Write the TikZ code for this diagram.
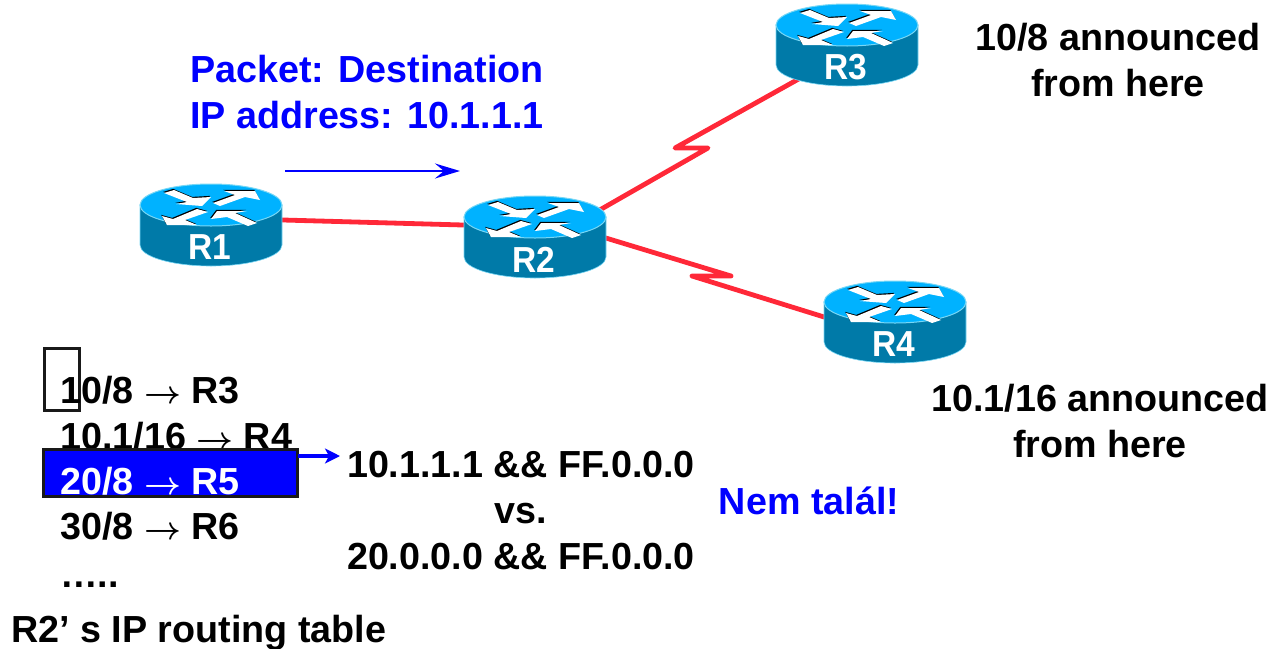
\documentclass[tikz,border=0pt]{standalone}
\usepackage{fontspec}
\setmainfont{Liberation Sans}
\usetikzlibrary{arrows.meta}
\definecolor{rtop}{RGB}{0,178,255}
\definecolor{rside}{RGB}{0,122,168}
\definecolor{rrim}{RGB}{120,215,245}
\definecolor{wan}{RGB}{255,40,56}
\definecolor{pblue}{RGB}{0,0,255}
\tikzset{
  txt/.style={font=\fontsize{37.7}{36}\selectfont\bfseries, inner sep=0pt, align=center},
  bluetxt/.style={txt, text=pblue},
  tbl/.style={txt, anchor=base west},
  link/.style={draw=wan, line width=4.8pt, line cap=round, line join=round},
  rlabel/.style={font=\fontsize{33.5}{33.5}\selectfont\bfseries, text=white, inner sep=0pt},
  bluearrow/.style={draw=pblue, -{Stealth[length=25pt,width=15pt,inset=9pt]}},
  bluearrowb/.style={draw=pblue, -{Stealth[length=15pt,width=15pt,inset=4pt]}}
}
\newcommand{\tarr}{\scalebox{1.29}{\boldmath$\rightarrow$}}
\newcommand{\routerbody}[4]{%
  \begin{scope}[shift={(#2,#3)}]
    \path[fill=rside, draw=rrim, line width=.6pt] (-71,0) -- (-71,40) arc[start angle=180,end angle=0,x radius=71,y radius=21] -- (71,0) -- cycle;
    \path[fill=rtop, draw=rrim, line width=1pt] (0,0) ellipse[x radius=71,y radius=21];
    \foreach \p in {0,1}{\ifnum\p=0\tikzset{rr/.style={shift={(-.8,-1.1)},fill=black}}\else\tikzset{rr/.style={fill=white}}\fi
      \path[rr] (-47,-12) -- (-37,-15) -- (-18,-7) -- (0,-8) -- (-9,1) -- (-35,-1) -- (-24,-3) -- cycle;
      \path[rr] (2,-2) -- (24,-10) -- (13,-14) -- (44,-14) -- (49,-5) -- (34,-8) -- (9,1) -- cycle;
      \path[rr] (-49,11) -- (-38,14) -- (-14,4) -- (-3,7) -- (-26,15) -- (-14,20) -- (-44,20) -- cycle;
      \path[rr] (0,14) -- (6,6) -- (36,6) -- (24,8) -- (46,18) -- (37,21) -- (16,12) -- cycle;
    }
    \node[rlabel] (#1) at (-1,42.5) {\scalebox{1}[1.08]{#4}};
  \end{scope}}
\begin{document}
\begin{tikzpicture}[x=1pt,y=-1pt]
\useasboundingbox (0,0) rectangle (1273,648);
% anchors of the links, hidden under the routers
\coordinate (c1) at (211,218);
\coordinate (c2) at (535,227);
\coordinate (c2u) at (535,247);
\coordinate (c2d) at (535,216.5);
\coordinate (c3) at (847,52);
\coordinate (c4) at (895,339);
\coordinate (z3a) at (708,148);
\coordinate (z3b) at (675,148);
\coordinate (z4a) at (731,276);
\coordinate (z4b) at (692,276);
\draw[link] (c1) -- (c2);
\draw[link] (c2u) -- (z3a) -- (z3b) -- (c3);
\draw[link] (c2d) -- (z4a) -- (z4b) -- (c4);
\routerbody{R1}{211}{205}{R1}
\routerbody{R2}{535}{217}{R2}
\routerbody{R3}{847}{25}{R3}
\routerbody{R4}{895}{302}{R4}
% packet
\node[bluetxt] (pkt) at (367,92) {Packet: Destination\\[10pt]IP address: 10.1.1.1};
\coordinate (pa) at (285,171);
\coordinate (pb) at (460,171);
\draw[bluearrow, line width=2.6pt] (pa) -- (pb);
% announcements
\node[txt] (a3) at (1118,60) {10/8 announced\\[10pt]from here};
\node[txt] (a4) at (1100,421) {10.1/16 announced\\[10pt]from here};
% table
\node[draw=black!90, line width=3pt, minimum width=35pt, minimum height=62pt, inner sep=0pt] (box) at (61.5,379) {};
\node[tbl] (t1) at (60,403) {10/8 \tarr{} R3};
\node[tbl] (t2) at (60,449) {10.1/16 \tarr{} R4};
\node[draw=black!90, fill=pblue, line width=3pt, minimum width=254pt, minimum height=47pt, inner sep=0pt] (hl) at (170.5,472.5) {};
\node[tbl, text=white] (t3) at (60,494) {20/8 \tarr{} R5};
\node[tbl] (t4) at (60,539) {30/8 \tarr{} R6};
\node[tbl] (t5) at (60,587) {…..};
\node[tbl] (cap) at (11,642) {R2’ s IP routing table};
% compare
\node[txt] (cmp) at (521,511) {10.1.1.1 \&\& FF.0.0.0\\[10pt]vs.\\[10pt]20.0.0.0 \&\& FF.0.0.0};
\coordinate (ha) at (298,456);
\coordinate (hb) at (340,456);
\draw[bluearrowb, line width=4pt] (ha) -- (hb);
\node[bluetxt] (nem) at (809,501) {Nem talál!};
\end{tikzpicture}
\end{document}
